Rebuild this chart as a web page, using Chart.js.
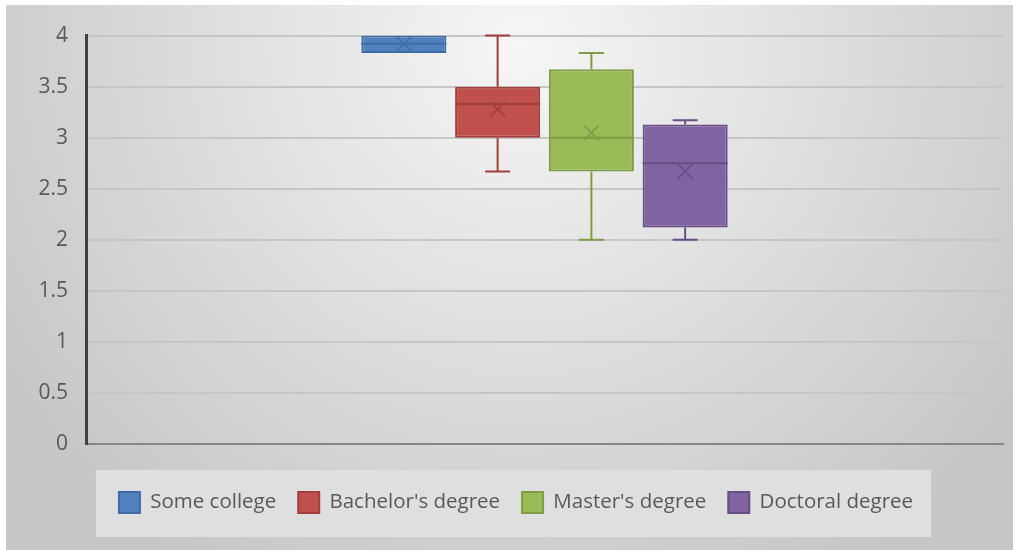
<!DOCTYPE html>
<html>
<head>
<meta charset="utf-8">
<script src="https://cdn.jsdelivr.net/npm/chart.js@4"></script>
<style>
  body { margin: 0; background: #fff; }
  #wrap { position: absolute; left: 6px; top: 5px; width: 1007px; height: 545px; }
</style>
</head>
<body>
<div id="wrap"><canvas id="chart"></canvas></div>
<script>
// box plot figures, one per education level
const groups = ["Some college", "Bachelor's degree", "Master's degree", "Doctoral degree"];
const minVals    = [3.83, 2.67, 2.0,  2.0];
const q1Vals     = [3.83, 3.0,  2.67, 2.12];
const medianVals = [3.92, 3.33, 3.0,  2.75];
const q3Vals     = [4.0,  3.5,  3.67, 3.13];
const maxVals    = [4.0,  4.0,  3.83, 3.17];
const meanVals   = [3.92, 3.28, 3.05, 2.67];
const yTicks     = [0, 0.5, 1, 1.5, 2, 2.5, 3, 3.5, 4];

const fills   = ['#4f81bd', '#c0504d', '#9bbb59', '#8064a2'];
const borders = ['#3f6ca6', '#a23f3c', '#7e9c42', '#654e85'];

const FONT = "'Open Sans', 'Noto Sans', sans-serif";

const background = {
  id: 'background',
  beforeDraw(chart) {
    const { ctx, width, height } = chart;
    ctx.save();
    const g = ctx.createRadialGradient(514, 40, 0, 514, 40, 620);
    g.addColorStop(0, '#f6f6f6');
    g.addColorStop(1, '#c6c6c6');
    ctx.fillStyle = g;
    ctx.fillRect(0, 0, width, height);

    // light panel behind the legend
    const boxes = chart.legend && chart.legend.legendHitBoxes;
    if (boxes && boxes.length) {
      const left = Math.min(...boxes.map(b => b.left)) - 23;
      const right = Math.max(...boxes.map(b => b.left + b.width)) + 18;
      const top = boxes[0].top - 22;
      const bottom = boxes[0].top + boxes[0].height + 24;
      ctx.fillStyle = '#dfdfdf';
      ctx.fillRect(left, top, right - left, bottom - top);
    }
    ctx.restore();
  }
};

const boxParts = {
  id: 'boxParts',
  afterDatasetsDraw(chart) {
    const { ctx } = chart;
    const y = chart.scales.y;
    ctx.save();
    chart.data.datasets.forEach((ds, i) => {
      const bar = chart.getDatasetMeta(i).data[0];
      if (!bar) return;
      const x = bar.x, half = bar.width / 2;
      const yMin = y.getPixelForValue(minVals[i]);
      const yQ1 = y.getPixelForValue(q1Vals[i]);
      const yMed = y.getPixelForValue(medianVals[i]);
      const yQ3 = y.getPixelForValue(q3Vals[i]);
      const yMax = y.getPixelForValue(maxVals[i]);
      const yMean = y.getPixelForValue(meanVals[i]);
      ctx.strokeStyle = borders[i];
      ctx.lineWidth = 2;
      ctx.beginPath();
      // whiskers
      if (maxVals[i] > q3Vals[i]) {
        ctx.moveTo(x, yQ3); ctx.lineTo(x, yMax);
        ctx.moveTo(x - 12.5, yMax); ctx.lineTo(x + 12.5, yMax);
      }
      if (minVals[i] < q1Vals[i]) {
        ctx.moveTo(x, yQ1); ctx.lineTo(x, yMin);
        ctx.moveTo(x - 12.5, yMin); ctx.lineTo(x + 12.5, yMin);
      }
      // median
      ctx.moveTo(x - half, yMed); ctx.lineTo(x + half, yMed);
      ctx.stroke();
      // mean marker
      ctx.beginPath();
      ctx.lineWidth = 1.5;
      ctx.moveTo(x - 7.5, yMean - 7.5); ctx.lineTo(x + 7.5, yMean + 7.5);
      ctx.moveTo(x + 7.5, yMean - 7.5); ctx.lineTo(x - 7.5, yMean + 7.5);
      ctx.stroke();
    });
    ctx.restore();
  }
};

new Chart(document.getElementById('chart'), {
  type: 'bar',
  data: {
    labels: [''],
    datasets: groups.map((name, i) => ({
      label: name,
      data: [[q1Vals[i], q3Vals[i]]],
      backgroundColor: fills[i],
      borderColor: borders[i],
      borderWidth: 2,
      borderSkipped: false,
      categoryPercentage: 0.409,
      barPercentage: 0.907
    }))
  },
  options: {
    responsive: true,
    maintainAspectRatio: false,
    animation: false,
    layout: { padding: { left: 23, right: 10, top: 29, bottom: 27 } },
    plugins: {
      tooltip: { enabled: false },
      legend: {
        position: 'bottom',
        labels: {
          boxWidth: 21,
          boxHeight: 21,
          padding: 22,
          color: '#595959',
          font: { family: FONT, size: 20.5 }
        }
      }
    },
    scales: {
      x: {
        grid: { display: false },
        border: { color: '#878787', width: 2 },
        ticks: { display: false },
        afterFit(scale) { scale.height = 26; }
      },
      y: {
        min: 0,
        max: 4,
        afterBuildTicks(scale) { scale.ticks = yTicks.map(v => ({ value: v })); },
        grid: { color: '#c6c6c6', lineWidth: 2, drawTicks: false },
        border: { color: '#404040', width: 3 },
        ticks: {
          color: '#595959',
          padding: 18,
          font: { family: FONT, size: 21 },
          callback: v => String(v)
        },
        afterFit(scale) { scale.width = 57; }
      }
    }
  },
  plugins: [background, boxParts]
});
</script>
</body>
</html>
